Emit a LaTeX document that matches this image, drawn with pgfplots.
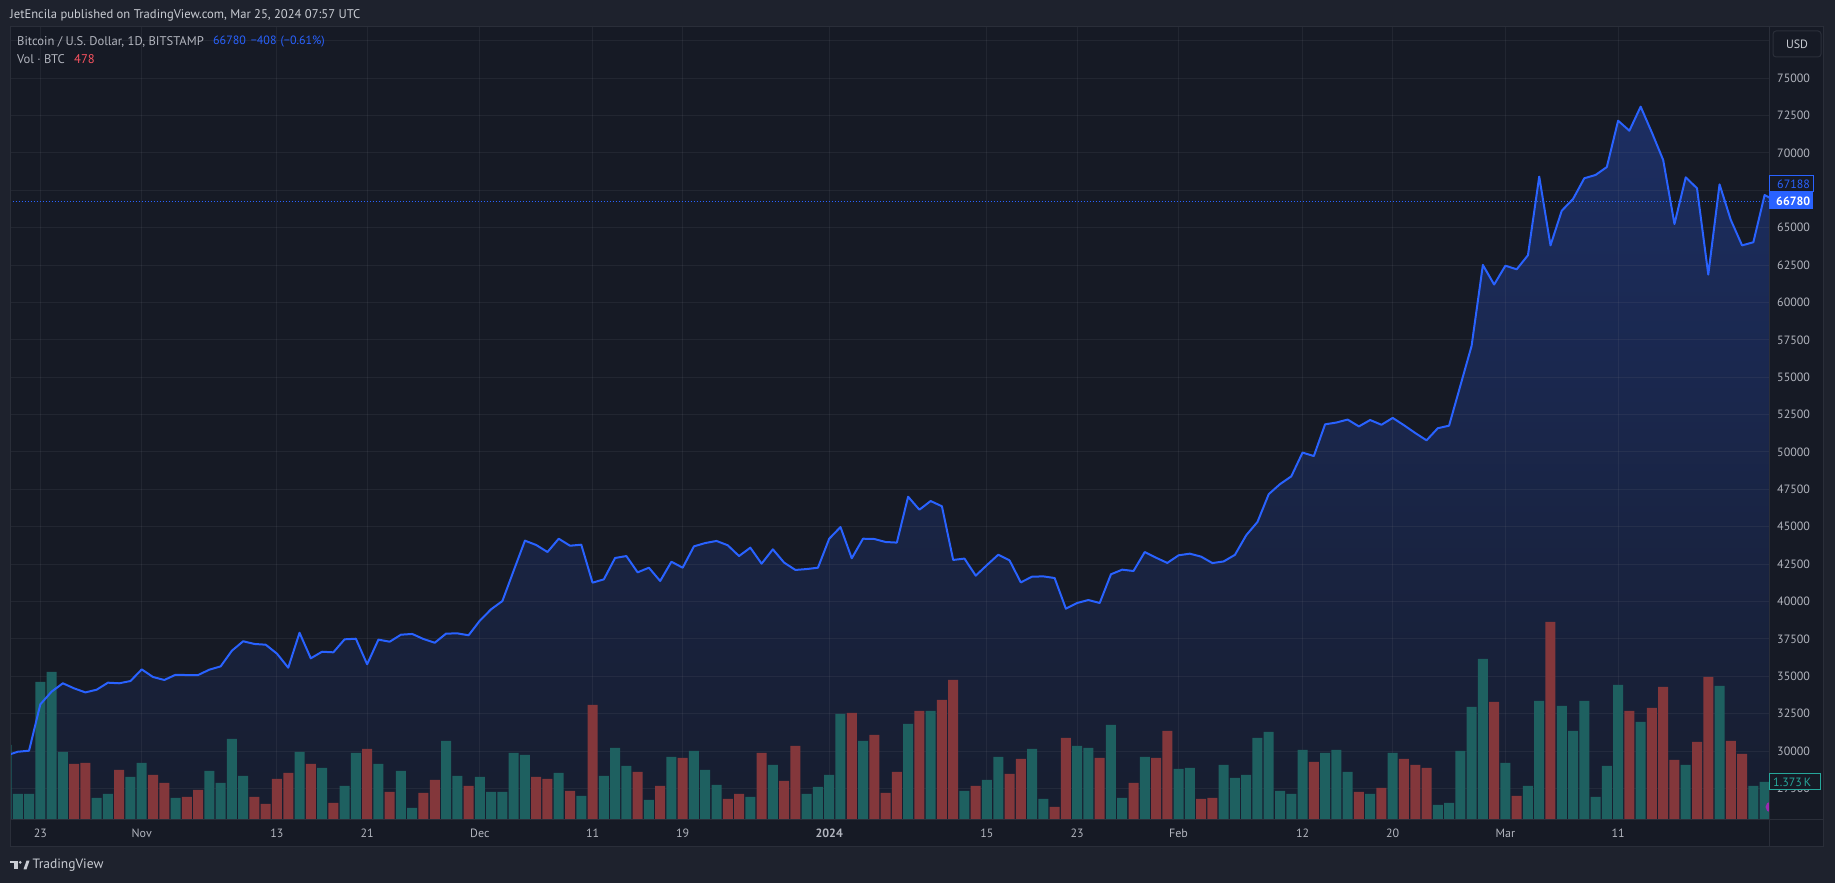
\documentclass[border=0pt]{standalone}
\usepackage{pgfplots}
\pgfplotsset{compat=1.18}
\usepackage{pgfplotstable}
\usepackage{fontspec}
\setmainfont{PT Sans}
\definecolor{outerbg}{HTML}{1E222D}
\definecolor{panelbg}{HTML}{161A25}
\definecolor{bordercol}{HTML}{2A2E39}
\definecolor{gridcol}{HTML}{787B86}
\definecolor{txt}{HTML}{B2B5BE}
\definecolor{txtlight}{HTML}{C9CCD3}
\definecolor{tvblue}{HTML}{2962FF}
\definecolor{volup}{HTML}{1E6060}
\definecolor{voldn}{HTML}{83373B}
\definecolor{areatop}{HTML}{1C2E62}
\definecolor{areabot}{HTML}{171D2E}
\definecolor{tvteal}{HTML}{26A69A}
\definecolor{tvred}{HTML}{F7525F}
\newcommand\tvf{\fontsize{12}{14}\selectfont}
\newcommand\tvh{\fontsize{12.6}{14}\selectfont}
\pgfdeclarelayer{bg}
\pgfsetlayers{bg,main}

% days counted from 23 Oct 2023 (= 0)
\pgfplotstableread{
d close
-3 29700
-2 29950
-1 30020
0 33120
1 33970
2 34530
3 34190
4 33920
5 34100
6 34570
7 34530
8 34680
9 35460
10 34950
11 34750
12 35100
13 35080
14 35080
15 35440
16 35660
17 36710
18 37340
19 37160
20 37110
21 36510
22 35570
23 37910
24 36200
25 36640
26 36600
27 37470
28 37510
29 35800
30 37450
31 37310
32 37780
33 37830
34 37490
35 37240
36 37850
37 37870
38 37740
39 38720
40 39480
41 40030
42 42060
43 44070
44 43780
45 43310
46 44200
47 43730
48 43800
49 41260
50 41480
51 42910
52 43040
53 41950
54 42260
55 41370
56 42660
57 42260
58 43690
59 43910
60 44050
61 43760
62 43040
63 43600
64 42530
65 43490
66 42600
67 42110
68 42170
69 42260
70 44200
71 44980
72 42890
73 44200
74 44180
75 43980
76 43940
77 47010
78 46140
79 46720
80 46370
81 42780
82 42870
83 41730
84 42440
85 43130
86 42750
87 41280
88 41660
89 41680
90 41570
91 39520
92 39900
93 40100
94 39900
95 41820
96 42130
97 42040
98 43310
99 42930
100 42580
101 43090
102 43200
103 43000
104 42570
105 42680
106 43120
107 44430
108 45320
109 47180
110 47850
111 48370
112 49960
113 49730
114 51850
115 51970
116 52170
117 51710
118 52140
119 51820
120 52280
121 51790
122 51270
123 50780
124 51590
125 51760
126 54430
127 57100
128 62510
129 61200
130 62460
131 62220
132 63160
133 68420
134 63820
135 66140
136 66920
137 68310
138 68530
139 69060
140 72160
141 71490
142 73100
143 71360
144 69530
145 65250
146 68370
147 67640
148 61870
149 67900
150 65520
151 63820
152 64030
153 67188
154 66780
}\price

% volume in BTC
\pgfplotstableread{
d vol
-3 2700
-2 936
-1 936
0 4968
1 5328
2 2448
5 792
6 936
8 1548
9 2052
12 792
15 1764
16 1332
17 2916
18 1584
23 2448
25 1872
27 1224
28 2412
30 2016
32 1764
33 432
36 2844
37 1584
39 1548
40 1008
41 1008
42 2412
43 2340
46 1692
48 864
50 1584
51 2592
52 1944
54 720
56 2268
58 2484
59 1800
60 1260
63 828
65 1980
68 936
69 1188
70 1620
71 3816
73 2844
77 3456
79 3924
82 1044
84 1440
85 2268
88 2556
89 756
92 2664
93 2592
95 3420
96 792
98 2268
101 1836
102 1872
105 1980
106 1512
107 1620
108 2952
109 3168
110 1044
111 936
112 2520
114 2412
115 2520
116 1728
118 936
120 2412
124 540
125 612
126 2484
127 4068
128 5796
130 2052
132 1224
133 4284
135 4104
136 3204
137 4284
138 828
139 1944
140 4860
142 3528
146 1980
149 4824
152 1224
153 1373
}\volupt

\pgfplotstableread{
d vol
3 2016
4 2052
7 1800
10 1620
11 1332
13 828
14 1080
19 828
20 576
21 1476
22 1692
24 2016
26 612
29 2556
31 1008
34 972
35 1440
38 1224
44 1548
45 1476
47 1044
49 4140
53 1728
55 1224
57 2232
61 756
62 936
64 2412
66 1404
67 2664
72 3852
74 3060
75 972
76 1728
78 3924
80 4320
81 5040
83 1224
86 1656
87 2196
90 468
91 2952
94 2232
97 1332
99 2232
100 3204
103 756
104 792
113 2088
117 1008
119 1152
121 2196
122 1980
123 1872
129 4248
131 864
134 7128
141 3924
143 4032
144 4788
145 2160
147 2808
148 5148
150 2844
151 2376
154 478
}\voldnt

\pgfplotsset{tvaxis/.style={at={(10,63)}, anchor=south west, scale only axis,
  width=1759pt, height=793pt, xmin=-2.69, xmax=153.39, ymin=25385, ymax=78428,
  scaled x ticks=false, scaled y ticks=false}}

\begin{document}
\begin{tikzpicture}[x=1pt,y=1pt]

% area + grid + tick labels
\begin{axis}[tvaxis,
  axis on top, axis line style={draw=none}, major tick length=0pt,
  xtick={0,9,21,29,39,49,57,70,84,92,101,112,120,130,140},
  xticklabels={23,Nov,13,21,Dec,11,19,\textbf{2024},15,23,Feb,12,20,Mar,11},
  ytick={27500,30000,32500,35000,37500,40000,42500,45000,47500,50000,52500,55000,57500,60000,62500,65000,67500,70000,72500,75000,77500},
  yticklabels={27500,30000,32500,35000,37500,40000,42500,45000,47500,50000,52500,55000,57500,60000,62500,65000,{},70000,72500,75000,{}},
  xtick pos=left, ytick pos=right,
  grid=major, major grid style={draw=gridcol, draw opacity=0.13, line width=1pt},
  xticklabel style={font=\tvf, text=txt, anchor=center, inner sep=0pt, yshift=-13.5pt},
  yticklabel style={font=\tvf, text=txt, anchor=west, inner sep=0pt, xshift=8pt},
  ]
\addplot[draw=none, top color=areatop, bottom color=areabot]
  table[x=d, y=close]{\price} -- (axis cs:154,25385) -- (axis cs:-3,25385) -- cycle;
\coordinate (P0) at (rel axis cs:0,0);
\end{axis}

% volume bars (1 BTC drawn as 1.858 price units above the bottom edge) and price line
\begin{axis}[tvaxis, hide axis]
\addplot[ybar, bar width=10pt, bar shift=0pt, fill=volup, draw=none]
  table[x=d, y expr=25385+1.858*\thisrow{vol}]{\volupt};
\addplot[ybar, bar width=10pt, bar shift=0pt, fill=voldn, draw=none]
  table[x=d, y expr=25385+1.858*\thisrow{vol}]{\voldnt};
\addplot[tvblue, line width=1pt, dash pattern=on 1pt off 2pt] coordinates {(-3,66780) (160,66780)};
\addplot[tvblue, line width=2pt, line join=round] table[x=d, y=close]{\price};
\end{axis}

\begin{scope}[shift={(P0)}, xshift=-10pt, yshift=-63pt]
\begin{pgfonlayer}{bg}
\fill[outerbg] (0,0) rectangle (1835,883);
\fill[panelbg] (10,36) rectangle (1823,856);
\end{pgfonlayer}

% event marker (partly hidden)
\begin{scope}
\clip (10,63) rectangle (1769,856);
\fill[color={rgb,255:red,156;green,39;blue,176}] (1771,76) circle (5.5);
\end{scope}

% borders
\draw[bordercol, line width=1pt] (10,36) rectangle (1823,856);
\draw[bordercol, line width=1pt] (10,63) -- (1823,63);
\draw[bordercol, line width=1pt] (1769,36) -- (1769,856);

% price scale badges
\draw[bordercol, fill=panelbg, rounded corners=3pt, line width=1pt] (1773,826) rectangle (1821,852);
\node[text=txtlight, font=\tvf] at (1797,839) {USD};
\draw[tvblue, fill=panelbg, line width=1pt] (1769.5,691.5) rectangle (1813,707);
\node[text=tvblue, font=\tvf, anchor=west, inner sep=0pt] at (1777,699) {67188};
\fill[tvblue] (1769,674) rectangle (1813,690.5);
\node[text=white, font=\tvf\bfseries, anchor=west, inner sep=0pt] at (1776,682) {66780};
\draw[tvteal, fill=panelbg, line width=1pt] (1769.5,93) rectangle (1820,109);
\node[text=tvteal, font=\tvf, anchor=west, inner sep=0pt] at (1773,101) {1.373\,K};

% header texts
\node[text=txtlight, font=\tvh, anchor=west, inner sep=0pt] at (10,868) {JetEncila published on TradingView.com, Mar 25, 2024 07:57 UTC};
\node[text=txt, font=\tvh, anchor=west, inner sep=0pt] at (17,841) {Bitcoin / U.S. Dollar, 1D, BITSTAMP};
\node[text=tvblue, font=\tvf, anchor=west, inner sep=0pt] at (213,841) {66780\hspace{5pt}−408\hspace{4pt}(−0.61\%)};
\node[text=txt, font=\tvh, anchor=west, inner sep=0pt] at (17,824) {Vol · BTC};
\node[text=tvred, font=\tvh, anchor=west, inner sep=0pt] at (74,824) {478};

% footer logo
\fill[txtlight] (10,20.5) rectangle (17.5,22.3);
\fill[txtlight] (14.2,13.7) rectangle (17.5,22.3);
\fill[txtlight] (20.2,20.7) circle (1.5);
\fill[txtlight] (23.5,13.7) -- (26.5,13.7) -- (29.5,22.3) -- (26.5,22.3) -- cycle;
\node[text=txtlight, font=\fontsize{13.5}{15}\selectfont, anchor=west, inner sep=0pt] at (32.5,18) {TradingView};

\pgfresetboundingbox
\useasboundingbox (0,0) rectangle (1835,883);
\end{scope}
\end{tikzpicture}
\end{document}
